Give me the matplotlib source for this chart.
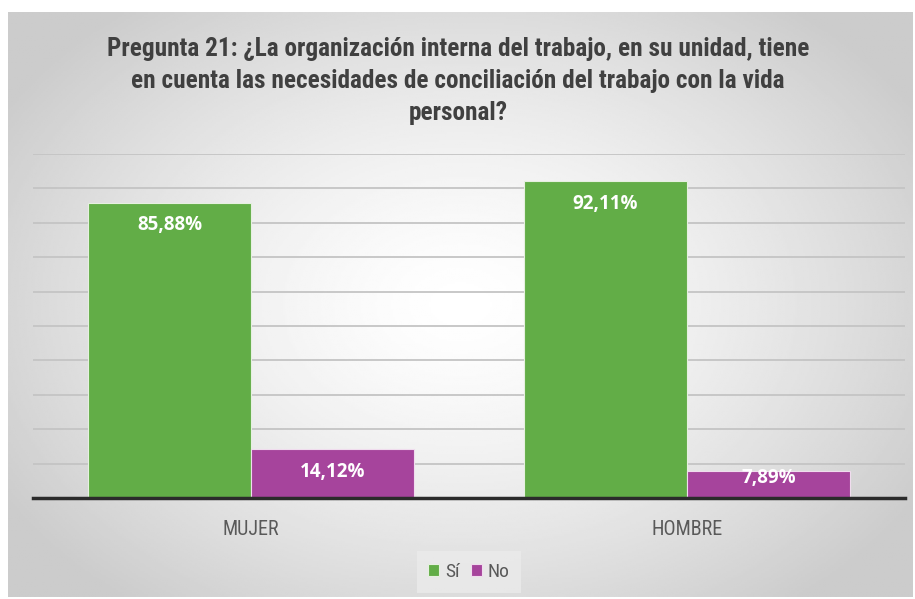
import matplotlib.pyplot as plt
import numpy as np

categories = ['MUJER', 'HOMBRE']
series = ['Sí', 'No']
si_vals = [85.88, 92.11]
no_vals = [14.12, 7.89]
colors = ['#62ad47', '#a6449c']

title = ('Pregunta 21: ¿La organización interna del trabajo, en su unidad, tiene\n'
         'en cuenta las necesidades de conciliación del trabajo con la vida\n'
         'personal?')

narrow = ['Roboto Condensed', 'Archivo Narrow', 'Liberation Sans Narrow', 'DejaVu Sans']
plt.rcParams['font.family'] = narrow

W, H = 915, 599
fig = plt.figure(figsize=(W / 100, H / 100), dpi=100)
fig.patch.set_facecolor('white')

# radial gradient background of the chart frame
bg = fig.add_axes([8 / W, 2 / H, 905 / W, 585 / H])
yy, xx = np.mgrid[-1:1:300j, -1:1:450j]
r = np.sqrt(xx ** 2 + (yy * 0.9) ** 2)
g = np.clip(1.0 - 0.16 * r ** 1.4, 0.8, 1.0)
bg.imshow(g, cmap='gray', vmin=0, vmax=1, aspect='auto', extent=[0, 1, 0, 1])
bg.set_axis_off()

ax = fig.add_axes([33 / W, (H - 498) / H, 872 / W, 344 / H])
ax.set_facecolor('none')

x = np.arange(len(categories))
w = 0.374
b1 = ax.bar(x - w / 2, si_vals, w, color=colors[0], edgecolor='#e6f0e0', linewidth=0.8, label=series[0], zorder=3)
b2 = ax.bar(x + w / 2, no_vals, w, color=colors[1], edgecolor='#f0dcee', linewidth=0.8, label=series[1], zorder=3)

for bars, vals in ((b1, si_vals), (b2, no_vals)):
    for rect, v in zip(bars, vals):
        ypos = max(v - 6.6, 5.8)   # inside end, kept inside short bars
        ax.text(rect.get_x() + rect.get_width() / 2, ypos,
                f'{v:.2f}%'.replace('.', ','),
                ha='center', va='center', color='white', fontsize=13.5,
                fontweight='bold', family=['Open Sans', 'DejaVu Sans'], zorder=4)

ax.set_xlim(-0.5, 1.5)
ax.set_ylim(0, 100)
ax.set_yticks(np.arange(0, 101, 10))
ax.yaxis.grid(True, color='#c4c4c4', linewidth=1.3, zorder=0)
ax.tick_params(axis='y', length=0, labelleft=False)
ax.set_xticks(x)
ax.set_xticklabels(categories, fontsize=14.5, color='#595959')
ax.tick_params(axis='x', length=0, pad=16)
for s in ['top', 'right', 'left']:
    ax.spines[s].set_visible(False)
ax.spines['bottom'].set_color('#2b2b2b')
ax.spines['bottom'].set_linewidth(2.5)
ax.spines['bottom'].set_zorder(5)

fig.text(458 / W, 1 - 81 / H, title, ha='center', va='center', fontsize=18.2,
         fontweight='bold', color='#404040', linespacing=1.4)

leg = fig.legend(handles=[b1, b2], labels=series, loc='center', bbox_to_anchor=(469 / W, 1 - 572 / H),
                 ncol=2, frameon=True, fontsize=14, handlelength=0.55, handleheight=0.55,
                 columnspacing=0.6, handletextpad=0.3, borderpad=0.6)
leg.get_frame().set_facecolor('#ebebeb')
leg.get_frame().set_edgecolor('none')
leg.get_frame().set_boxstyle('square', pad=0)
for t in leg.get_texts():
    t.set_color('#595959')

fig.savefig('out.png', dpi=100)
